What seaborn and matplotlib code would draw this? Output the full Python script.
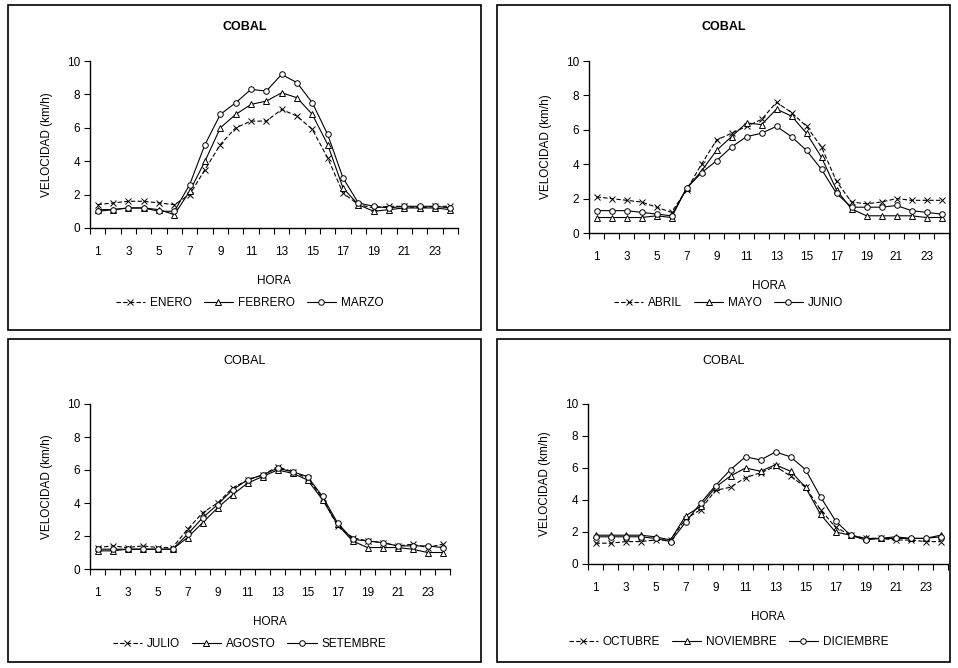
import matplotlib
matplotlib.use("Agg")
import matplotlib.pyplot as plt
import seaborn as sns
from matplotlib.lines import Line2D

W, H = 958, 668

hours = list(range(1, 25))

# panel 1
enero = [1.4, 1.5, 1.6, 1.6, 1.5, 1.4, 2.0, 3.5, 5.0, 6.0, 6.4, 6.4,
         7.1, 6.7, 5.9, 4.2, 2.1, 1.4, 1.2, 1.3, 1.3, 1.2, 1.3, 1.3]
febrero = [1.1, 1.1, 1.2, 1.2, 1.1, 0.8, 2.2, 4.0, 6.0, 6.8, 7.4, 7.6,
           8.1, 7.8, 6.8, 5.0, 2.4, 1.4, 1.0, 1.1, 1.2, 1.2, 1.2, 1.1]
marzo = [1.0, 1.1, 1.2, 1.2, 1.0, 1.0, 2.6, 5.0, 6.8, 7.5, 8.3, 8.2,
         9.2, 8.7, 7.5, 5.6, 3.0, 1.5, 1.3, 1.2, 1.3, 1.3, 1.3, 1.2]

# panel 2
abril = [2.1, 2.0, 1.9, 1.8, 1.5, 1.2, 2.5, 4.0, 5.4, 5.8, 6.2, 6.6,
         7.6, 7.0, 6.2, 5.0, 3.0, 1.8, 1.7, 1.8, 2.0, 1.9, 1.9, 1.9]
mayo = [0.9, 0.9, 0.9, 0.9, 1.0, 0.9, 2.6, 3.6, 4.8, 5.6, 6.4, 6.3,
        7.2, 6.8, 5.8, 4.4, 2.5, 1.4, 1.0, 1.0, 1.0, 1.0, 0.9, 0.9]
junio = [1.3, 1.3, 1.3, 1.2, 1.1, 1.0, 2.6, 3.5, 4.2, 5.0, 5.6, 5.8,
         6.2, 5.6, 4.8, 3.7, 2.3, 1.5, 1.5, 1.5, 1.6, 1.3, 1.2, 1.1]

# panel 3
julio = [1.3, 1.4, 1.3, 1.4, 1.3, 1.3, 2.4, 3.4, 4.0, 4.9, 5.4, 5.7,
         6.2, 5.9, 5.5, 4.3, 2.6, 1.9, 1.7, 1.6, 1.4, 1.5, 1.3, 1.5]
agosto = [1.1, 1.1, 1.2, 1.2, 1.2, 1.2, 1.9, 2.8, 3.7, 4.5, 5.2, 5.6,
          6.0, 5.8, 5.4, 4.2, 2.7, 1.7, 1.3, 1.3, 1.3, 1.2, 1.0, 1.0]
setembre = [1.2, 1.2, 1.2, 1.2, 1.2, 1.2, 2.1, 3.1, 3.9, 4.8, 5.4, 5.7,
            6.1, 5.9, 5.6, 4.4, 2.8, 1.8, 1.7, 1.6, 1.4, 1.4, 1.4, 1.3]

# panel 4
octubre = [1.3, 1.3, 1.4, 1.4, 1.5, 1.5, 2.8, 3.4, 4.6, 4.8, 5.4, 5.7,
           6.1, 5.5, 4.8, 3.4, 2.3, 1.8, 1.6, 1.6, 1.5, 1.5, 1.4, 1.4]
noviembre = [1.8, 1.8, 1.8, 1.8, 1.7, 1.5, 3.0, 3.6, 4.8, 5.5, 6.0, 5.8,
             6.2, 5.8, 4.8, 3.1, 2.0, 1.8, 1.6, 1.6, 1.7, 1.6, 1.6, 1.8]
diciembre = [1.7, 1.7, 1.7, 1.7, 1.6, 1.4, 2.6, 3.8, 4.9, 5.9, 6.7, 6.5,
             7.0, 6.7, 5.9, 4.2, 2.7, 1.8, 1.5, 1.6, 1.6, 1.6, 1.6, 1.7]

panels = [
    (["ENERO", "FEBRERO", "MARZO"], [enero, febrero, marzo], True),
    (["ABRIL", "MAYO", "JUNIO"], [abril, mayo, junio], True),
    (["JULIO", "AGOSTO", "SETEMBRE"], [julio, agosto, setembre], False),
    (["OCTUBRE", "NOVIEMBRE", "DICIEMBRE"], [octubre, noviembre, diciembre], False),
]

# pixel boxes: (left, top, right, bottom) for frame and axes
frames = [(8, 5, 481, 330), (497, 5, 950, 330),
          (8, 339, 481, 662), (497, 339, 950, 662)]
axes_px = [(90, 61, 458, 228), (589, 61, 949, 233),
           (90, 404, 450, 569), (588, 404, 948, 564)]
legend_gap = [27, 27, 18, 20]

styles = [dict(marker="x", linestyle=(0, (4, 2)), markersize=4),
          dict(marker="^", linestyle="-", markersize=4),
          dict(marker="o", linestyle="-", markersize=4)]

sns.set_theme(style="ticks")
plt.rcParams["font.family"] = ["Liberation Sans", "DejaVu Sans"]
plt.rcParams["text.color"] = "black"
plt.rcParams["axes.labelcolor"] = "black"
plt.rcParams["xtick.color"] = "black"
plt.rcParams["ytick.color"] = "black"
FS = 8.5


def fx(x):
    return x / W


def fy(y):
    return 1 - y / H


fig = plt.figure(figsize=(W / 100, H / 100), dpi=100)
fig.patch.set_facecolor("white")

for (names, series, bold), fr, ap, gap in zip(panels, frames, axes_px, legend_gap):
    l, t, r, b = fr
    fig.add_artist(plt.Rectangle((fx(l), fy(b)), fx(r - l), (b - t) / H,
                                 transform=fig.transFigure, fill=False,
                                 edgecolor="black", lw=1.2))
    al, at, ar, ab = ap
    ax = fig.add_axes([fx(al), fy(ab), fx(ar - al), (ab - at) / H])
    for name, vals, st in zip(names, series, styles):
        sns.lineplot(x=hours, y=vals, ax=ax, color="black", lw=0.8,
                     markerfacecolor="white", markeredgecolor="black",
                     markeredgewidth=0.7, label=name, **st)
    ax.set_xlim(0.5, 24.5)
    ax.set_ylim(0, 10)
    ax.set_yticks(range(0, 11, 2))
    ax.set_xticks(range(1, 24, 2))
    ax.set_xticks([h + 0.5 for h in range(0, 25)], minor=True)
    ax.tick_params(axis="x", which="major", length=0, pad=13, labelsize=FS)
    ax.tick_params(axis="x", which="minor", length=4, width=0.8, direction="out")
    ax.tick_params(axis="y", length=4, width=0.8, labelsize=FS, pad=3)
    for s in ["top", "right"]:
        ax.spines[s].set_visible(False)
    for s in ["left", "bottom"]:
        ax.spines[s].set_color("black")
        ax.spines[s].set_linewidth(1.0)
    ax.set_xlabel("HORA", fontsize=FS, labelpad=12)
    ax.set_ylabel("VELOCIDAD (km/h)", fontsize=FS, labelpad=10)
    ax.get_legend().remove()
    fig.text(fx((l + r) / 2), fy(t + 22), "COBAL", ha="center", va="center",
             fontsize=FS + 0.5, fontweight="bold" if bold else "normal")
    handles = [Line2D([], [], color="black", lw=0.8, markerfacecolor="white",
                      markeredgewidth=0.7, **st) for st in styles]
    fig.legend(handles, names, loc="center", ncol=3, frameon=False,
               fontsize=FS, handlelength=2.5, columnspacing=1.0,
               handletextpad=0.4,
               bbox_to_anchor=(fx((l + r) / 2 + 5), fy(b - gap)))

fig.savefig("out.png", dpi=100, facecolor="white")
